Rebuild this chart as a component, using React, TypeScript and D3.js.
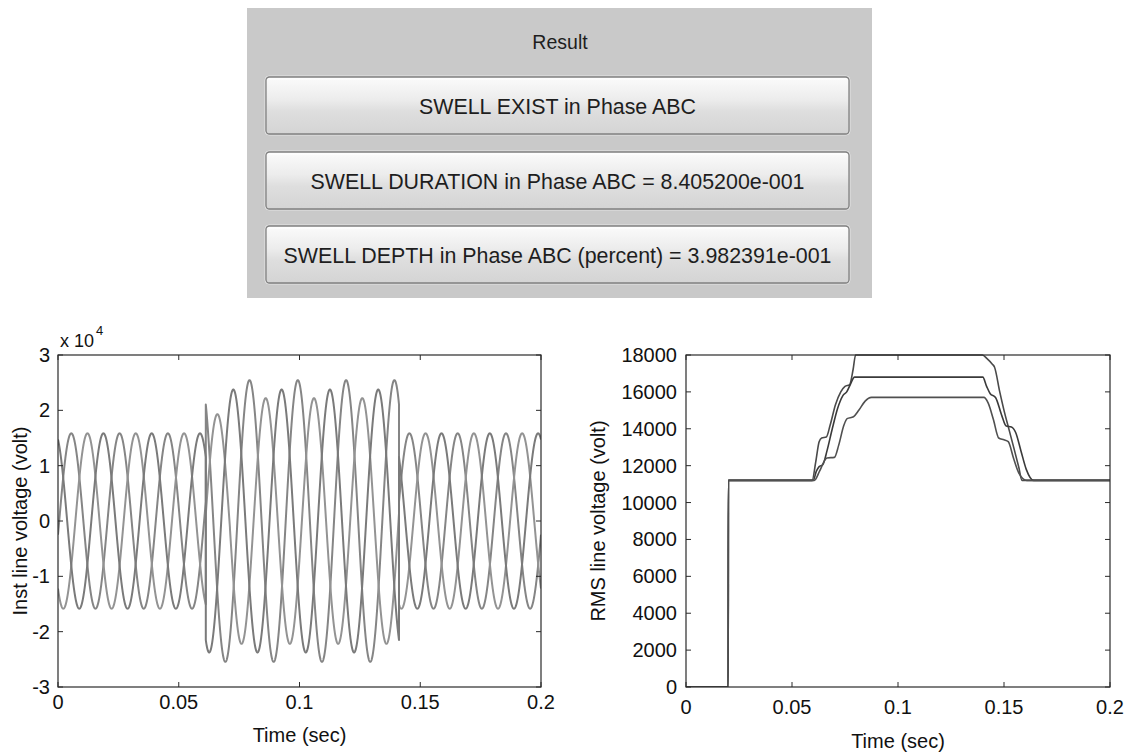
import React from "react";
import * as d3 from "d3";

// ---- Result panel texts ----
const PANEL_TITLE = "Result";
const RESULT_LINES = [
  "SWELL EXIST in Phase ABC",
  "SWELL DURATION in Phase ABC = 8.405200e-001",
  "SWELL DEPTH in Phase ABC (percent) = 3.982391e-001",
];

// ---- Instantaneous line voltages (three phases, 50 Hz) ----
const FREQ_HZ = 50;
const SEGMENT_EDGES = [0, 0.0612, 0.0712, 0.1412, 0.2];
// crest value (V) of each phase inside each segment
const PEAK_AB = [15840, 25456, 25456, 15840];
const PEAK_BC = [15840, 19300, 22200, 15840];
const PEAK_CA = [15840, 23760, 23760, 15840];
// time of a crest (s, modulo one cycle) inside each segment
const CREST_AB = [0.0055, 0.0193, 0.0193, 0.0055];
const CREST_BC = [0.0122, 0.006, 0.006, 0.0122];
const CREST_CA = [0.0188, 0.0126, 0.0126, 0.0188];

// ---- RMS line voltages, one-cycle window: [time s, volt] ----
const RMS_AB: [number, number][] = [
  [0, 0], [0.0199, 0], [0.02, 11200], [0.0595, 11200], [0.0612, 12200], [0.0628, 13300],
  [0.064, 13500], [0.0662, 13550], [0.068, 14200], [0.0705, 15300], [0.073, 16000],
  [0.075, 16300], [0.0772, 16400], [0.0788, 17200], [0.08, 18000], [0.1398, 18000],
  [0.142, 17800], [0.1445, 17500], [0.1455, 17350], [0.148, 16000], [0.15, 15000],
  [0.1525, 13900], [0.155, 12800], [0.157, 11900], [0.1585, 11200], [0.2, 11200],
];
const RMS_CA: [number, number][] = [
  [0, 0], [0.0199, 0], [0.02, 11200], [0.06, 11200], [0.0615, 11700], [0.0628, 11950],
  [0.0645, 12050], [0.0665, 12800], [0.069, 14000], [0.0715, 15100], [0.074, 15800],
  [0.0758, 16000], [0.0775, 16400], [0.0795, 16800], [0.14, 16800], [0.1418, 16300],
  [0.1435, 15900], [0.146, 15700], [0.149, 14700], [0.151, 14150], [0.1535, 14100],
  [0.1555, 13800], [0.158, 12800], [0.1605, 11800], [0.164, 11200], [0.2, 11200],
];
const RMS_BC: [number, number][] = [
  [0, 0], [0.0199, 0], [0.02, 11200], [0.0605, 11200], [0.063, 11700], [0.0655, 12300],
  [0.0665, 12420], [0.07, 12450], [0.072, 13100], [0.0745, 14200], [0.076, 14550],
  [0.079, 14650], [0.0815, 15000], [0.0845, 15500], [0.0875, 15700], [0.1405, 15700],
  [0.1425, 15400], [0.145, 14500], [0.1475, 13500], [0.15, 13400], [0.152, 13300],
  [0.1545, 12400], [0.157, 11600], [0.1608, 11200], [0.2, 11200],
];

// ---- Axis ticks ----
const TIME_TICKS = [0, 0.05, 0.1, 0.15, 0.2];
const TIME_TICK_LABELS = ["0", "0.05", "0.1", "0.15", "0.2"];
const INST_TICKS = [-3, -2, -1, 0, 1, 2, 3];
const RMS_TICKS = [0, 2000, 4000, 6000, 8000, 10000, 12000, 14000, 16000, 18000];

const FONT = "'Liberation Sans', Arial, sans-serif";
const TICK_FONT = 20;
const LABEL_FONT = 20;

function buildWave(peaks: number[], crests: number[]): [number, number][] {
  const pts: [number, number][] = [];
  const step = 0.00004;
  const n = Math.round((SEGMENT_EDGES[SEGMENT_EDGES.length - 1] - SEGMENT_EDGES[0]) / step);
  const valueAt = (t: number, seg: number) =>
    peaks[seg] * Math.cos(2 * Math.PI * FREQ_HZ * (t - crests[seg]));
  for (let i = 0; i <= n; i++) {
    const t = i * step;
    let seg = d3.bisectRight(SEGMENT_EDGES, t) - 1;
    seg = Math.max(0, Math.min(peaks.length - 1, seg));
    pts.push([t, valueAt(t, seg) / 1e4]);
  }
  // switching instants drawn as exact vertical jumps
  for (let s = 1; s < SEGMENT_EDGES.length - 1; s++) {
    const te = SEGMENT_EDGES[s];
    pts.push([te - 1e-9, valueAt(te, s - 1) / 1e4]);
    pts.push([te, valueAt(te, s) / 1e4]);
  }
  pts.sort((a, b) => a[0] - b[0]);
  return pts;
}

type Box = { x0: number; x1: number; y0: number; y1: number };

function Frame({ x0, x1, y0, y1, xs, ys, yTicks }: Box & {
  xs: d3.ScaleLinear<number, number>; ys: d3.ScaleLinear<number, number>; yTicks: number[];
}) {
  const tl = 5;
  return (
    <g>
      <rect x={x0} y={y0} width={x1 - x0} height={y1 - y0} fill="none" stroke="#2a2a2a" strokeWidth={1.2} />
      {TIME_TICKS.map((t) => (
        <g key={"xt" + t}>
          <line x1={xs(t)} x2={xs(t)} y1={y1} y2={y1 - tl} stroke="#2a2a2a" strokeWidth={1} />
          <line x1={xs(t)} x2={xs(t)} y1={y0} y2={y0 + tl} stroke="#2a2a2a" strokeWidth={1} />
        </g>
      ))}
      {yTicks.map((v) => (
        <g key={"yt" + v}>
          <line x1={x0} x2={x0 + tl} y1={ys(v)} y2={ys(v)} stroke="#2a2a2a" strokeWidth={1} />
          <line x1={x1} x2={x1 - tl} y1={ys(v)} y2={ys(v)} stroke="#2a2a2a" strokeWidth={1} />
        </g>
      ))}
    </g>
  );
}

export default function App() {
  // left chart geometry
  const L: Box = { x0: 58, x1: 541, y0: 355, y1: 687 };
  const lx = d3.scaleLinear().domain([0, 0.2]).range([L.x0, L.x1]);
  const ly = d3.scaleLinear().domain([-3, 3]).range([L.y1, L.y0]);
  // right chart geometry
  const R: Box = { x0: 686, x1: 1110, y0: 355, y1: 687 };
  const rx = d3.scaleLinear().domain([0, 0.2]).range([R.x0, R.x1]);
  const ry = d3.scaleLinear().domain([0, 18000]).range([R.y1, R.y0]);

  const waves = [
    { key: "ab", data: buildWave(PEAK_AB, CREST_AB), color: "#858585" },
    { key: "bc", data: buildWave(PEAK_BC, CREST_BC), color: "#939393" },
    { key: "ca", data: buildWave(PEAK_CA, CREST_CA), color: "#7a7a7a" },
  ];
  const waveLine = d3.line<[number, number]>().x((d) => lx(d[0])).y((d) => ly(d[1]));

  const rms = [
    { key: "ab", data: RMS_AB, color: "#4a4a4a" },
    { key: "ca", data: RMS_CA, color: "#3a3a3a" },
    { key: "bc", data: RMS_BC, color: "#505050" },
  ];
  const rmsLine = d3
    .line<[number, number]>()
    .x((d) => rx(d[0]))
    .y((d) => ry(d[1]))
    .curve(d3.curveMonotoneX);

  const panel = { x: 247, y: 8, w: 625, h: 290 };
  const btn = { x: 266, w: 583, h: 57, ys: [77, 152, 226] };

  return (
    <div style={{ position: "absolute", left: 0, top: 0 }}>
      <svg width={1134} height={752} style={{ display: "block", background: "#fff" }} fontFamily={FONT}>
        <defs>
          <linearGradient id="btnFace" x1="0" y1="0" x2="0" y2="1">
            <stop offset="0%" stopColor="#fbfbfb" />
            <stop offset="40%" stopColor="#ececec" />
            <stop offset="60%" stopColor="#dedede" />
            <stop offset="100%" stopColor="#d4d4d4" />
          </linearGradient>
          <clipPath id="clipL">
            <rect x={L.x0} y={L.y0} width={L.x1 - L.x0} height={L.y1 - L.y0} />
          </clipPath>
          <clipPath id="clipR">
            <rect x={R.x0} y={R.y0 - 1} width={R.x1 - R.x0} height={R.y1 - R.y0 + 1} />
          </clipPath>
        </defs>

        {/* Result panel */}
        <rect x={panel.x} y={panel.y} width={panel.w} height={panel.h} fill="#c9c9c9" />
        <text x={560} y={49} textAnchor="middle" fontSize={19.5} fill="#1e1e1e">
          {PANEL_TITLE}
        </text>
        {RESULT_LINES.map((s, i) => (
          <g key={s}>
            <rect x={btn.x - 1} y={btn.ys[i] - 1} width={btn.w + 2} height={btn.h + 2} rx={4}
              fill="none" stroke="#e4e4e4" strokeWidth={1} />
            <rect x={btn.x} y={btn.ys[i]} width={btn.w} height={btn.h} rx={3.5}
              fill="url(#btnFace)" stroke="#808080" strokeWidth={1.3} />
            <line x1={btn.x + 3} x2={btn.x + btn.w - 3} y1={btn.ys[i] + 2} y2={btn.ys[i] + 2}
              stroke="#ffffff" strokeWidth={1.2} />
            <text x={btn.x + btn.w / 2} y={btn.ys[i] + btn.h / 2 + 8} textAnchor="middle"
              fontSize={21.4} fill="#1e1e1e">
              {s}
            </text>
          </g>
        ))}

        {/* Left: instantaneous line voltages */}
        <g clipPath="url(#clipL)">
          {waves.map((w) => (
            <path key={w.key} d={waveLine(w.data) || ""} fill="none" stroke={w.color}
              strokeWidth={2} strokeLinejoin="round" />
          ))}
        </g>
        <Frame {...L} xs={lx} ys={ly} yTicks={INST_TICKS} />
        {TIME_TICKS.map((t, i) => (
          <text key={"lxl" + t} x={lx(t)} y={L.y1 + 22} textAnchor="middle" fontSize={TICK_FONT} fill="#111">
            {TIME_TICK_LABELS[i]}
          </text>
        ))}
        {INST_TICKS.map((v) => (
          <text key={"lyl" + v} x={L.x0 - 8} y={ly(v) + 7} textAnchor="end" fontSize={TICK_FONT} fill="#111">
            {String(v)}
          </text>
        ))}
        <text x={60} y={347} fontSize={18} fill="#111">
          x 10
        </text>
        <text x={96} y={335} fontSize={13} fill="#111">
          4
        </text>
        <text x={(L.x0 + L.x1) / 2} y={742} textAnchor="middle" fontSize={LABEL_FONT} fill="#111">
          Time (sec)
        </text>
        <text transform={`translate(27,${(L.y0 + L.y1) / 2}) rotate(-90)`} textAnchor="middle"
          fontSize={LABEL_FONT} fill="#111">
          Inst line voltage (volt)
        </text>

        {/* Right: RMS line voltages */}
        <g clipPath="url(#clipR)">
          {rms.map((r) => (
            <path key={r.key} d={rmsLine(r.data) || ""} fill="none" stroke={r.color}
              strokeWidth={1.6} strokeLinejoin="round" />
          ))}
        </g>
        <Frame {...R} xs={rx} ys={ry} yTicks={RMS_TICKS} />
        {TIME_TICKS.map((t, i) => (
          <text key={"rxl" + t} x={rx(t)} y={R.y1 + 27} textAnchor="middle" fontSize={TICK_FONT} fill="#111">
            {TIME_TICK_LABELS[i]}
          </text>
        ))}
        {RMS_TICKS.map((v) => (
          <text key={"ryl" + v} x={R.x0 - 9} y={ry(v) + 7} textAnchor="end" fontSize={TICK_FONT} fill="#111">
            {String(v)}
          </text>
        ))}
        <text x={(R.x0 + R.x1) / 2} y={748} textAnchor="middle" fontSize={LABEL_FONT} fill="#111">
          Time (sec)
        </text>
        <text transform={`translate(605,${(R.y0 + R.y1) / 2}) rotate(-90)`} textAnchor="middle"
          fontSize={LABEL_FONT} fill="#111">
          RMS line voltage (volt)
        </text>
      </svg>
    </div>
  );
}
